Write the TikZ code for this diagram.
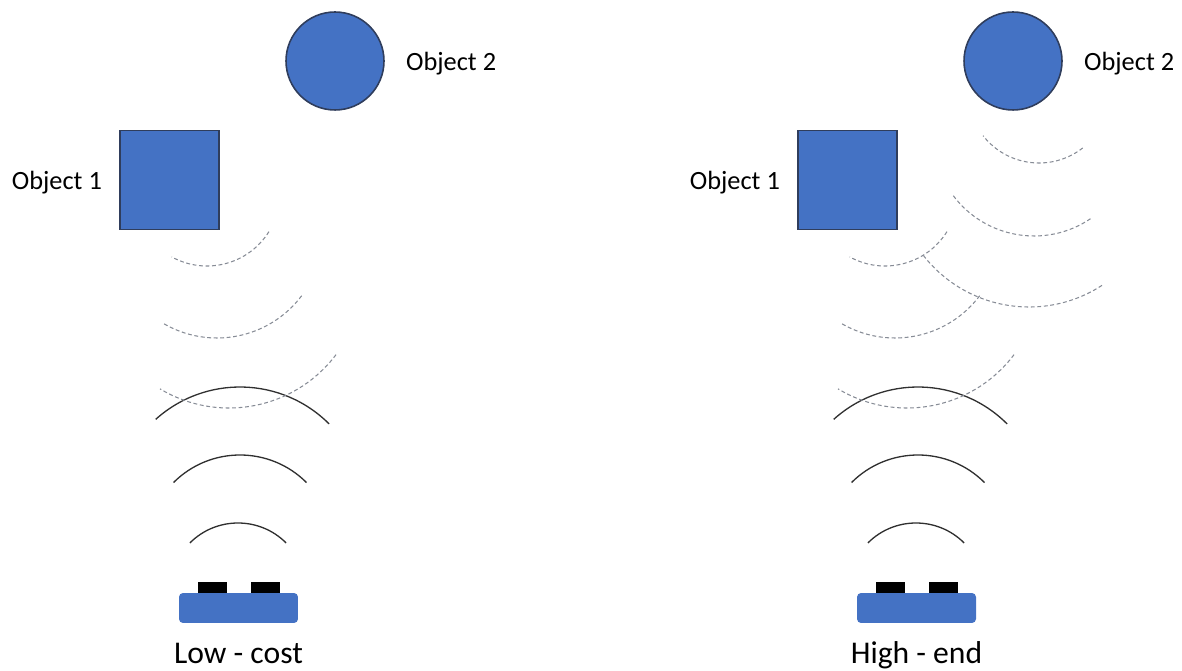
\documentclass[tikz,border=0pt]{standalone}
\usepackage{fontspec}
\setmainfont{Carlito}
\usetikzlibrary{positioning}

\definecolor{objblue}{HTML}{4472C4}
\definecolor{objedge}{HTML}{2F3D5C}
\definecolor{echogray}{HTML}{878C96}
\definecolor{wavegray}{HTML}{303030}

\tikzset{
  object/.style={fill=objblue, draw=objedge, line width=0.9pt, inner sep=0pt},
  objlabel/.style={font=\fontsize{15}{18}\selectfont, inner sep=0pt, yshift=-0.06cm},
  caption/.style={font=\fontsize{18}{22}\selectfont, inner sep=0pt, anchor=base},
  sensorbase/.style={fill=objblue, rounded corners=0.08cm, minimum width=2.38cm, minimum height=0.6cm, inner sep=0pt},
  key/.style={fill=black, minimum width=0.58cm, minimum height=0.22cm, inner sep=0pt},
  pulse/.style={draw=wavegray, line width=0.75pt},
  echo/.style={draw=echogray, line width=0.6pt, dash pattern=on 2.2pt off 1.5pt},
}

\begin{document}
\begin{tikzpicture}[x=0.02cm, y=-0.02cm]
\useasboundingbox (0,0) rectangle (1182,671);

% both set-ups: objects, sensor, outgoing pulses, echo from object 1
\foreach \p/\dx/\txt in {lo/0/Low - cost, hi/678/High - end} {
\begin{scope}[shift={(\dx,0)}]
  % objects
  \node[object, minimum size=1.98cm] (sq-\p) at (169.5,180) {};
  \node[object, circle, minimum size=1.96cm] (disc-\p) at (335,61) {};
  \node[objlabel, left=0.34cm of sq-\p] (name1-\p) {Object 1};
  \node[objlabel, right=0.42cm of disc-\p] (name2-\p) {Object 2};

  % sensor
  \node[sensorbase] (base-\p) at (238.5,608) {};
  \node[key] (keyl-\p) at (212.5,587.5) {};
  \node[key] (keyr-\p) at (265.5,587.5) {};
  \node[caption] (cap-\p) at (238.5,663) {\txt};

  % pulses going up
  \draw[pulse] (238,591) ++(-135:68) arc[start angle=-135, end angle=-45, radius=68];
  \draw[pulse] (240,549) ++(-135:94) arc[start angle=-135, end angle=-45, radius=94];
  \draw[pulse] (240,513) ++(-132:126) arc[start angle=-132, end angle=-45, radius=126];

  % echo from object 1
  \draw[echo] (207,193) ++(32:73) arc[start angle=32, end angle=119, radius=73];
  \draw[echo] (217,232) ++(37:106) arc[start angle=37, end angle=121, radius=106];
  \draw[echo] (229,274) ++(37:134) arc[start angle=37, end angle=121, radius=134];
\end{scope}
}

% echo from object 2, only picked up by the better sensor
\begin{scope}[shift={(678,0)}]
  \draw[echo] (361,92) ++(52:71) arc[start angle=52, end angle=142, radius=71];
  \draw[echo] (356,135) ++(56:101) arc[start angle=56, end angle=144, radius=101];
  \draw[echo] (351,173) ++(57:134) arc[start angle=57, end angle=142, radius=134];
\end{scope}
\end{tikzpicture}
\end{document}
